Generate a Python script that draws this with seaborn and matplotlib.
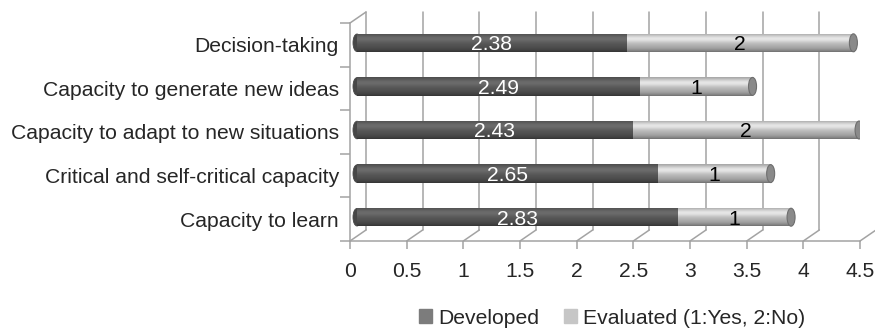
import numpy as np
import pandas as pd
import matplotlib
matplotlib.use("Agg")
import matplotlib.pyplot as plt
import matplotlib.transforms as mtransforms
from matplotlib.patches import Patch, Ellipse
from matplotlib.colors import to_rgb
import seaborn as sns

# ---- data -------------------------------------------------------------
categories = [
    "Decision-taking",
    "Capacity to generate new ideas",
    "Capacity to adapt to new situations",
    "Critical and self-critical capacity",
    "Capacity to learn",
]
developed = [2.38, 2.49, 2.43, 2.65, 2.83]
evaluated = [2, 1, 2, 1, 1]
x_ticks = [0, 0.5, 1, 1.5, 2, 2.5, 3, 3.5, 4, 4.5]
x_tick_labels = ["0", "0.5", "1", "1.5", "2", "2.5", "3", "3.5", "4", "4.5"]
series_names = ["Developed", "Evaluated (1:Yes, 2:No)"]

# ---- style ------------------------------------------------------------
DARK = "#545454"
LIGHT = "#b4b4b4"
LEG_DARK = "#7c7c7c"
LEG_LIGHT = "#c6c6c6"
GRID = "#a3a3a3"
FS = 15.2
BAR_W = 0.42

sns.set_theme(style="white")
plt.rcParams["font.family"] = ["Liberation Sans", "DejaVu Sans"]

df = pd.DataFrame({"skill": categories, "developed": developed, "evaluated": evaluated})
df["total"] = df["developed"] + df["evaluated"]

fig = plt.figure(figsize=(8.75, 3.31), dpi=100)
ax = fig.add_axes([350 / 875, 90 / 331, 510 / 875, 218 / 331])

# stacked bars: full length in light grey, developed part on top in dark grey
sns.barplot(data=df, x="total", y="skill", color=LIGHT, orient="h", width=BAR_W,
            saturation=1, linewidth=0, ax=ax, zorder=3)
n_light = len(ax.patches)
sns.barplot(data=df, x="developed", y="skill", color=DARK, orient="h", width=BAR_W,
            saturation=1, linewidth=0, ax=ax, zorder=4)

ax.set_xlim(0, 4.5)
ax.set_ylim(4.5, -0.5)

# pseudo-3D depth: bars sit half-way back, gridlines on the back wall
px = fig.dpi_scale_trans
bar_trans = ax.transData + mtransforms.ScaledTranslation(0.07, 0.02, px)
blend = mtransforms.blended_transform_factory(ax.transData, ax.transAxes)
back_trans = blend + mtransforms.ScaledTranslation(0.16, 0.11, px)

# cylinder-like vertical shading
v = np.linspace(0, 1, 64)
shade = 1 + 0.28 * np.exp(-((v - 0.3) / 0.2) ** 2) - 0.38 * (np.abs(v - 0.4) / 0.6) ** 3

for k, p in enumerate(ax.patches):
    p.set_transform(bar_trans)
    base = np.array(to_rgb(LIGHT if k < n_light else DARK))
    img = np.clip(base[None, :] * shade[:, None], 0, 1)[:, None, :]
    x0, y0, w, h = p.get_x(), p.get_y(), p.get_width(), p.get_height()
    im = ax.imshow(img, extent=[x0, x0 + w, y0 + h, y0], aspect="auto",
                   transform=bar_trans, zorder=p.get_zorder() + 0.1,
                   interpolation="bilinear")
    im.set_clip_path(p)

ax.set_xlim(0, 4.5)
ax.set_ylim(4.5, -0.5)
ax.set_aspect("auto")

cap_w = 8 / 113.3
for i, (d, t) in enumerate(zip(df["developed"], df["total"])):
    # rounded left end and elliptical right cap
    ax.add_patch(Ellipse((0, i), cap_w, BAR_W * 0.96, transform=bar_trans,
                         facecolor="#474747", edgecolor="#474747", lw=0.6,
                         zorder=4.05))
    ax.add_patch(Ellipse((t, i), cap_w, BAR_W * 0.98, transform=bar_trans,
                         facecolor="#8a8a8a", edgecolor="#6e6e6e", lw=0.8, zorder=5))
    ax.text(d / 2, i, f"{d:.2f}", transform=bar_trans, ha="center",
            va="center_baseline", color="white", fontsize=FS, zorder=7)
    ax.text(d + (t - d) / 2, i, f"{t - d:g}", transform=bar_trans, ha="center",
            va="center_baseline", color="black", fontsize=FS, zorder=7)

# back-wall gridlines and floor diagonals
for t in x_ticks:
    ax.plot([t, t], [0, 1], transform=back_trans, color=GRID, lw=1.1,
            zorder=1, clip_on=False)
    ax.annotate("", xy=(t, 0), xycoords=blend, xytext=(16, 11),
                textcoords="offset pixels", annotation_clip=False,
                arrowprops=dict(arrowstyle="-", color=GRID, lw=1.1,
                                shrinkA=0, shrinkB=0))
ax.annotate("", xy=(0, 1), xycoords=blend, xytext=(16, 11),
            textcoords="offset pixels", annotation_clip=False,
            arrowprops=dict(arrowstyle="-", color=GRID, lw=1.1,
                            shrinkA=0, shrinkB=0))

# axes frame
for side in ("top", "right"):
    ax.spines[side].set_visible(False)
for side in ("left", "bottom"):
    ax.spines[side].set_color(GRID)
    ax.spines[side].set_linewidth(1.1)

ax.set_xticks(x_ticks)
ax.set_xticklabels(x_tick_labels, fontsize=FS)
ax.set_yticks(range(len(categories)))
ax.set_yticklabels(categories, fontsize=FS)
ax.set_yticks(np.arange(-0.5, len(categories)), minor=True)
ax.tick_params(axis="x", which="major", direction="out", length=6, width=1.1,
               color=GRID, pad=9, bottom=True)
ax.tick_params(axis="y", which="major", length=0, pad=8, left=True)
ax.tick_params(axis="y", which="minor", direction="out", length=7, width=1.1,
               color=GRID, left=True)
ax.set_xlabel("")
ax.set_ylabel("")
ax.set_facecolor("none")

handles = [Patch(color=LEG_DARK), Patch(color=LEG_LIGHT)]
fig.legend(handles, series_names, loc="center", bbox_to_anchor=(612 / 875, 13 / 331),
           ncol=2, frameon=False, fontsize=FS, handlelength=0.62, handleheight=0.62,
           handletextpad=0.3, columnspacing=1.15, borderpad=0)

fig.savefig("out.png", dpi=100)
